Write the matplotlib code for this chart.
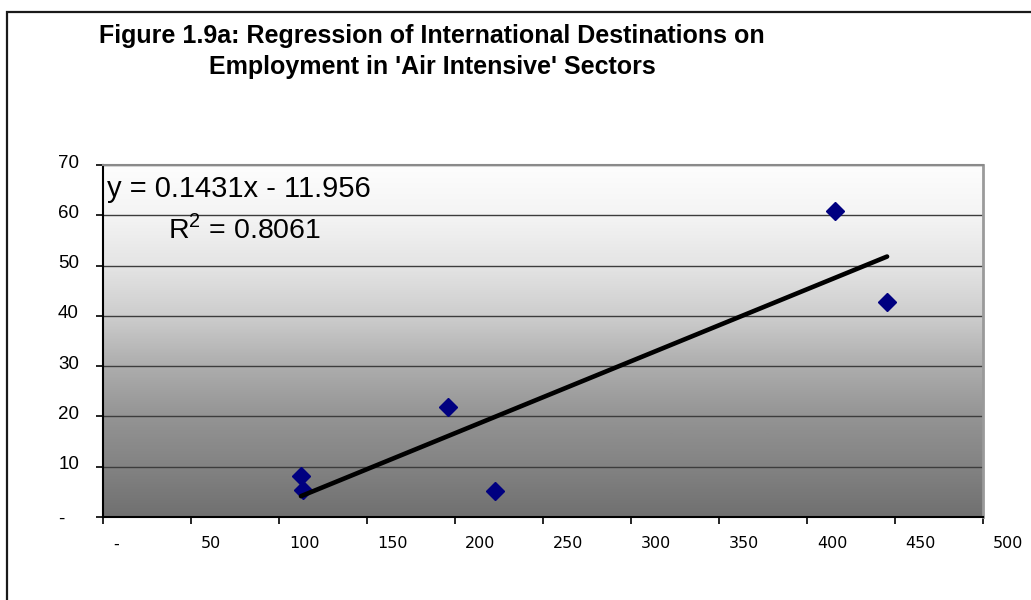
"""
Figure 1.9a: regression of international destinations on employment in
'air intensive' sectors, redrawn in the old spreadsheet style.
"""

import matplotlib
import numpy as np

matplotlib.use("Agg")
import matplotlib.pyplot as plt  # noqa: E402
from matplotlib.colors import LinearSegmentedColormap  # noqa: E402
from matplotlib.patches import Rectangle  # noqa: E402

# employment in air-intensive sectors (x) vs international destinations (y)
employment = [112.5, 113.5, 196, 222.5, 416, 445.5]
destinations = [8.2, 5.3, 21.8, 5.2, 60.9, 42.7]

SLOPE = 0.1431
INTERCEPT = -11.956
R2 = 0.8061

x_ticks = [0, 50, 100, 150, 200, 250, 300, 350, 400, 450, 500]
x_labels = ["-", "50", "100", "150", "200", "250", "300", "350", "400",
            "450", "500"]
y_ticks = [0, 10, 20, 30, 40, 50, 60, 70]
y_labels = ["-", "10", "20", "30", "40", "50", "60", "70"]

TITLE_1 = "Figure 1.9a: Regression of International Destinations on"
TITLE_2 = "Employment in 'Air Intensive' Sectors"

W, H = 1031, 600


def main():
    plt.rcParams["font.family"] = ["Liberation Sans", "DejaVu Sans"]
    plt.rcParams["mathtext.fontset"] = "custom"
    plt.rcParams["mathtext.rm"] = "Liberation Sans"

    fig = plt.figure(figsize=(W / 100, H / 100), dpi=100)
    fig.patch.set_facecolor("white")

    # outer chart-area frame (right and bottom run off the page)
    fig.add_artist(Rectangle((7 / W, -0.1), 1.2, 1.1 - 12 / H,
                             transform=fig.transFigure, fill=False,
                             ec="#1a1a1a", lw=1.6, clip_on=False))

    fig.text(432 / W, 1 - 36 / H, TITLE_1, ha="center", va="center",
             fontsize=18, fontweight="bold")
    fig.text(432 / W, 1 - 67 / H, TITLE_2, ha="center", va="center",
             fontsize=18, fontweight="bold")

    left, right, top, bottom = 103, 983, 165, 517
    ax = fig.add_axes([left / W, 1 - bottom / H, (right - left) / W,
                       (bottom - top) / H])
    ax.set_xlim(0, 500)
    ax.set_ylim(0, 70)

    # white-to-grey vertical gradient of the plot area
    cmap = LinearSegmentedColormap.from_list(
        "bg", [(0.0, "#707070"), (1 / 7, "#838383"), (2 / 7, "#949494"),
               (3 / 7, "#adadad"), (4 / 7, "#cdcdcd"), (5 / 7, "#e4e4e4"),
               (6 / 7, "#f4f4f4"), (1.0, "#fdfdfd")])
    grad = np.linspace(0, 1, 400).reshape(-1, 1)
    ax.imshow(grad, cmap=cmap, origin="lower", aspect="auto",
              extent=[0, 500, 0, 70], zorder=0, interpolation="bilinear")

    ax.set_axisbelow(True)
    ax.set_yticks(y_ticks)
    ax.set_xticks(x_ticks)
    ax.yaxis.grid(True, color="#3c3c3c", lw=1.0)
    ax.xaxis.grid(False)
    ax.tick_params(axis="both", direction="out", length=5, width=1.2,
                   color="black", labelleft=False, labelbottom=False)

    for s in ("left", "bottom"):
        ax.spines[s].set_color("black")
        ax.spines[s].set_linewidth(1.5)
    ax.spines["top"].set_color("#8a8a8a")
    ax.spines["top"].set_linewidth(1.5)
    ax.spines["right"].set_color("#9a9a9a")
    ax.spines["right"].set_linewidth(2)

    # tick labels, placed the way the spreadsheet placed them
    for v, lab in zip(y_ticks, y_labels):
        if lab == "-":
            ax.annotate(lab, xy=(0, v), xycoords=ax.get_yaxis_transform(),
                        xytext=(-45, -2), textcoords="offset pixels",
                        ha="left", va="center", fontsize=13.5)
        else:
            ax.annotate(lab, xy=(0, v), xycoords=ax.get_yaxis_transform(),
                        xytext=(-24, 2), textcoords="offset pixels",
                        ha="right", va="center", fontsize=13.5)
    for v, lab in zip(x_ticks, x_labels):
        ax.annotate(lab, xy=(v, 0), xycoords=ax.get_xaxis_transform(),
                    xytext=(10, -27), textcoords="offset pixels",
                    ha="left", va="center", fontsize=11.5,
                    family="DejaVu Sans")

    ax.plot(employment, destinations, ls="none", marker="D", ms=9.5,
            color="#000080", zorder=3)

    xs = np.array([min(employment), max(employment)])
    ax.plot(xs, SLOPE * xs + INTERCEPT, color="black", lw=3.3,
            solid_capstyle="round", zorder=4)

    ax.text(2.3, 65.3, f"y = {SLOPE}x - {abs(INTERCEPT)}", fontsize=21,
            ha="left", va="center", zorder=5)
    ax.text(37, 57.2, r"R$^{\mathregular{2}}$" + f" = {R2}", fontsize=20.5,
            ha="left", va="center", zorder=5)

    fig.savefig("out.png", dpi=100, facecolor="white")


if __name__ == "__main__":
    main()
